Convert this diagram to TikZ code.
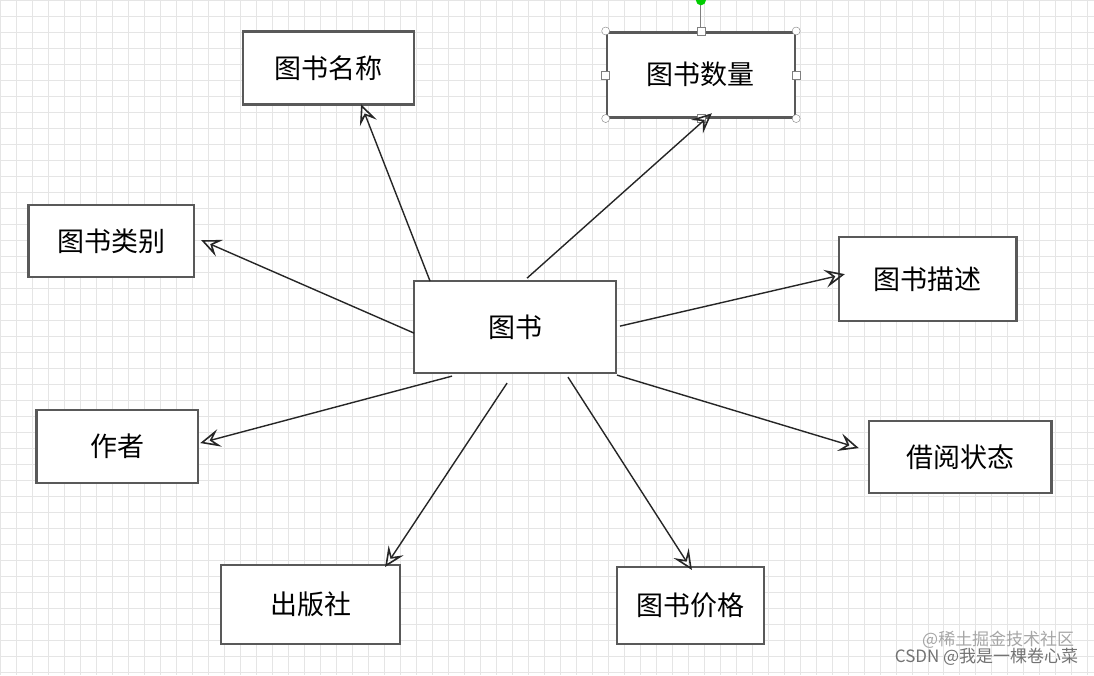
\documentclass[tikz,border=0pt]{standalone}
\usepackage{fontspec}
\newfontfamily\cjk{Noto Sans CJK SC}
\usetikzlibrary{arrows.meta}
\begin{document}
\begin{tikzpicture}[x=1pt,y=-1pt,
  box/.style={draw=black!65,line width=2.6pt,fill=white,inner sep=0pt,font=\cjk\fontsize{27}{30}\selectfont},
  arr/.style={draw=black!85,line width=1.4pt,-{Stealth[open,length=20pt,width=18pt,inset=8pt,line width=1.6pt]}},
  gridline/.style={black!10,line width=0.6pt},
  handle/.style={draw=black!50,fill=white,minimum size=8pt,inner sep=0pt}]
\fill[white] (0,0) rectangle (1094,675);
\foreach \k in {0,...,68} {\draw[gridline] ({16*\k},0) -- ({16*\k},675);}
\foreach \k in {0,...,42} {\draw[gridline] (0,{16*\k}) -- (1094,{16*\k});}
\useasboundingbox (0,0) rectangle (1094,675);
\newcommand\bx[6]{\node[box,minimum width=#4-#2,minimum height=#5-#3] (#1) at ({(#2+#4)/2},{(#3+#5)/2}) {#6};}
\bx{mc}{243}{31}{414}{104}{图书名称}
\bx{sl}{607}{32}{795}{117}{图书数量}
\bx{lb}{28}{205}{194}{277}{图书类别}
\bx{ts}{414}{281}{616}{373}{图书}
\bx{ms}{839}{237}{1017}{321}{图书描述}
\bx{zz}{36}{410}{198}{483}{作者}
\bx{jy}{869}{421}{1052}{493}{借阅状态}
\bx{cb}{221}{565}{400}{644}{出版社}
\bx{jg}{617}{567}{764}{644}{图书价格}
\draw[black!50,line width=1pt] (701,0) -- (sl.north);
\fill[green!80!black] (701,0) circle (5);
\foreach \p in {sl.north west,sl.north east,sl.south west,sl.south east}
  \node[handle,circle] at (\p) {};
\foreach \p in {sl.north,sl.west,sl.east,sl.south} \node[handle] at (\p) {};
\coordinate (s1) at (430,281); \coordinate (e1) at (361,104);
\coordinate (s2) at (527,278); \coordinate (e2) at (712,113);
\coordinate (s3) at (414,333); \coordinate (e3) at (201,240);
\coordinate (s4) at (620,326); \coordinate (e4) at (845,274);
\coordinate (s5) at (452,376); \coordinate (e5) at (200,443);
\coordinate (s6) at (617,375); \coordinate (e6) at (859,448);
\coordinate (s7) at (507,383); \coordinate (e7) at (385,567);
\coordinate (s8) at (568,377); \coordinate (e8) at (692,570);
\foreach \i in {1,...,8} \draw[arr] (s\i) -- (e\i);
\node[text=black!35,font=\cjk\fontsize{17}{18}\selectfont,anchor=east] (wm1) at (1078,640) {@稀土掘金技术社区};
\node[text=black!55,font=\cjk\fontsize{17}{18}\selectfont,anchor=east] (wm2) at (1082,657) {CSDN @我是一棵卷心菜};
\end{tikzpicture}
\end{document}
